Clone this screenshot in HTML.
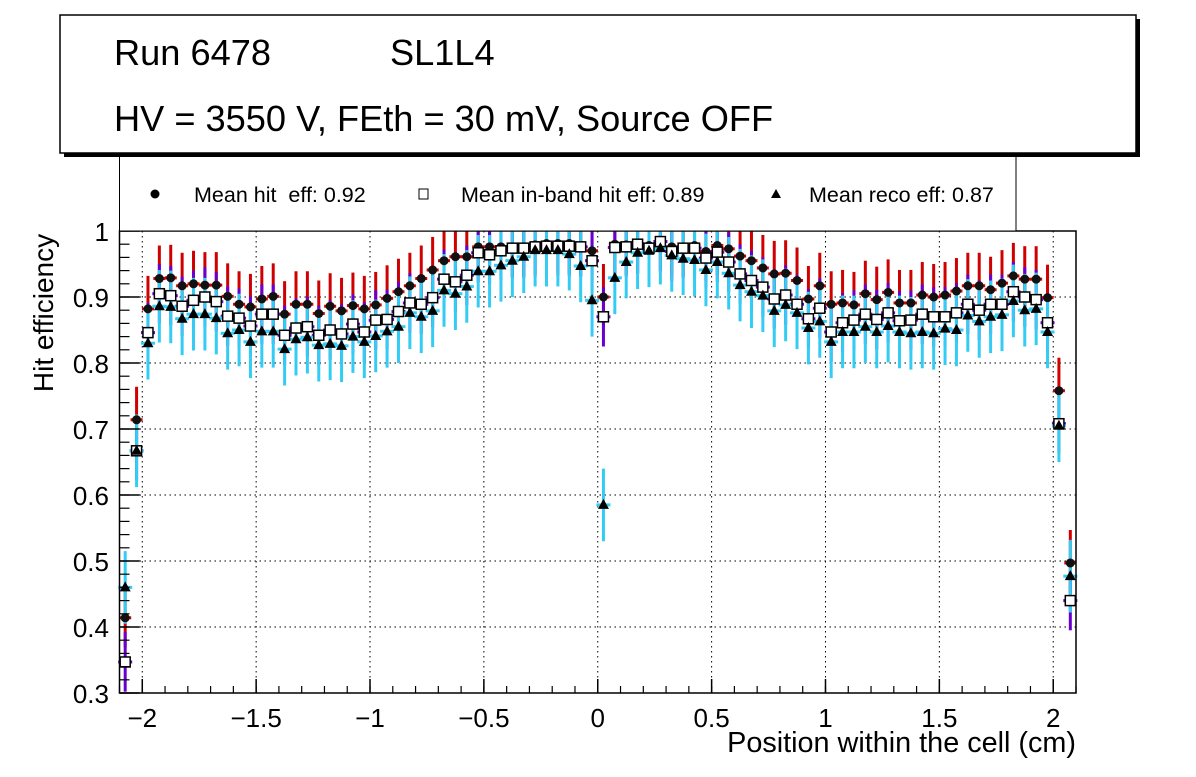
<!DOCTYPE html>
<html><head><meta charset="utf-8"><style>
body{margin:0;background:#fff;}
svg text{font-family:"Liberation Sans",sans-serif;}
</style></head><body>
<svg id="c" width="1196" height="772" xmlns="http://www.w3.org/2000/svg">
<rect x="0" y="0" width="1196" height="772" fill="#fff"/>
<g id="grid"></g>
<g id="marks"></g>
<rect x="119.5" y="231" width="956.5" height="462" fill="none" stroke="#000" stroke-width="1.5"/>
<g id="axes"></g>
<text x="1076" y="752" text-anchor="end" font-size="28.8">Position within the cell (cm)</text>
<text transform="translate(53,313) rotate(-90)" text-anchor="middle" font-size="28">Hit efficiency</text>
<g>
<rect x="119.5" y="150" width="896.5" height="81" fill="#fff" stroke="#000" stroke-width="1"/>
<circle cx="155" cy="194" r="4.5" fill="#000"/>
<text x="194" y="202" font-size="21.5">Mean hit&#160; eff: 0.92</text>
<rect x="419" y="189" width="9" height="10" fill="#fff" stroke="#000"/>
<text x="461" y="202" font-size="21.5">Mean in-band hit eff: 0.89</text>
<polygon points="776,189 771,198 781,198" fill="#000"/>
<text x="809" y="202" font-size="21.5">Mean reco eff: 0.87</text>
</g>
<g>
<rect x="64" y="19" width="1076" height="138" fill="#000"/>
<rect x="60" y="15" width="1076" height="138" fill="#fff" stroke="#000" stroke-width="1.5"/>
<text x="114" y="65" font-size="36.2">Run 6478</text>
<text x="390" y="65" font-size="36.2">SL1L4</text>
<text x="114" y="131" font-size="36.2">HV = 3550 V, FEth = 30 mV, Source OFF</text>
</g>
</svg>
<script>
const xStart = -2.075, xStep = 0.05;
const hitEff = [0.414,0.714,0.882,0.928,0.929,0.917,0.92,0.918,0.918,0.901,0.889,0.885,0.897,0.901,0.874,0.889,0.889,0.875,0.886,0.879,0.887,0.882,0.888,0.898,0.908,0.917,0.928,0.941,0.955,0.961,0.961,0.976,0.976,0.976,0.975,0.976,0.979,0.981,0.981,0.981,0.976,0.97,0.9,0.98,0.979,0.981,0.978,0.984,0.976,0.976,0.978,0.969,0.978,0.973,0.962,0.955,0.944,0.935,0.936,0.925,0.897,0.917,0.889,0.891,0.888,0.905,0.896,0.907,0.891,0.891,0.903,0.9,0.903,0.909,0.917,0.917,0.911,0.921,0.932,0.927,0.927,0.899,0.758,0.497];
const inbandEff = [0.347,0.667,0.846,0.905,0.902,0.886,0.895,0.9,0.893,0.871,0.868,0.856,0.874,0.874,0.842,0.853,0.855,0.842,0.85,0.844,0.859,0.847,0.865,0.866,0.878,0.891,0.889,0.899,0.927,0.923,0.933,0.967,0.964,0.97,0.974,0.974,0.976,0.977,0.977,0.977,0.976,0.955,0.87,0.975,0.976,0.98,0.974,0.984,0.969,0.974,0.974,0.959,0.968,0.953,0.935,0.925,0.915,0.897,0.903,0.889,0.867,0.883,0.847,0.861,0.865,0.874,0.866,0.876,0.864,0.865,0.874,0.87,0.87,0.876,0.889,0.88,0.889,0.889,0.908,0.9,0.896,0.861,0.708,0.44];
const recoEff = [0.46,0.667,0.83,0.886,0.885,0.867,0.874,0.874,0.868,0.845,0.85,0.832,0.848,0.848,0.821,0.836,0.839,0.827,0.829,0.826,0.84,0.832,0.841,0.848,0.855,0.876,0.87,0.879,0.91,0.905,0.916,0.939,0.939,0.948,0.955,0.961,0.971,0.971,0.971,0.965,0.947,0.895,0.585,0.929,0.953,0.967,0.97,0.974,0.963,0.958,0.956,0.941,0.953,0.936,0.918,0.908,0.902,0.879,0.888,0.876,0.853,0.863,0.832,0.847,0.847,0.855,0.847,0.856,0.847,0.845,0.847,0.845,0.852,0.85,0.872,0.863,0.87,0.873,0.894,0.88,0.882,0.847,0.705,0.477];
const hitErr = [0.045,0.05];
const inbandErr = [0.045,0.045];
const recoErr = [0.055,0.055];
const xTicks = [-2,-1.5,-1,-0.5,0,0.5,1,1.5,2];
const xTickLabels = ["\u22122","\u22121.5","\u22121","\u22120.5","0","0.5","1","1.5","2"];
const yTicks = [0.3,0.4,0.5,0.6,0.7,0.8,0.9,1];
const yTickLabels = ["0.3","0.4","0.5","0.6","0.7","0.8","0.9","1"];

const NS="http://www.w3.org/2000/svg";
const X0=119.5,X1=1076,Y0=693,Y1=231,xmin=-2.1,xmax=2.1,ymin=0.3,ymax=1.0;
function sx(v){return X0+(v-xmin)/(xmax-xmin)*(X1-X0);}
function sy(v){return Y0-(v-ymin)/(ymax-ymin)*(Y0-Y1);}
function mk(tag,attrs,parent){const e=document.createElementNS(NS,tag);for(const k in attrs)e.setAttribute(k,attrs[k]);parent.appendChild(e);return e;}
const grid=document.getElementById('grid'),axes=document.getElementById('axes'),marks=document.getElementById('marks');
xTicks.forEach((t,i)=>{
  const x=sx(t);
  const g=mk('line',{x1:x,x2:x,y1:Y1,y2:Y0,stroke:'#000','stroke-dasharray':'1.5,3.5','stroke-width':1},grid);
  
  
  const tk=mk('line',{x1:x,x2:x,y1:Y0,y2:Y0-14,stroke:'#000','stroke-width':1.5},axes);
  
  
  const tx=mk('text',{x:x,y:727,'text-anchor':'middle','font-size':26},axes);
  tx.textContent=xTickLabels[i];
  
  
});
for(let v=-2.1;v<=2.1001;v+=0.1){const x=sx(v);mk('line',{x1:x,x2:x,y1:Y0,y2:Y0-7,stroke:'#000','stroke-width':1.2},axes);}
yTicks.forEach((t,i)=>{
  const y=sy(t);
  if(t>ymin&&t<ymax){const g=mk('line',{x1:X0,x2:X1,y1:y,y2:y,stroke:'#000','stroke-dasharray':'1.5,3.5','stroke-width':1},grid);
  
  }
  const tk=mk('line',{x1:X0,x2:X0+20,y1:y,y2:y,stroke:'#000','stroke-width':1.5},axes);
  
  
  const tx=mk('text',{x:109,y:y+10,'text-anchor':'end','font-size':26},axes);
  tx.textContent=yTickLabels[i];
  
  
});
for(let v=0.3;v<=1.0001;v+=0.02){const y=sy(v);mk('line',{x1:X0,x2:X0+10,y1:y,y2:y,stroke:'#000','stroke-width':1.2},axes);}
function clampY(v){return sy(Math.max(ymin,Math.min(ymax,v)));}
hitEff.forEach((v,i)=>{const x=sx(xStart+i*xStep);
  const l=mk('line',{x1:x,x2:x,y1:clampY(v+hitErr[1]),y2:clampY(v-hitErr[0]),stroke:'#d00000','stroke-width':3},marks);
  
  
  mk('line',{x1:x-6,x2:x+6,y1:sy(v),y2:sy(v),stroke:'#d00000','stroke-width':3},marks);
});
inbandEff.forEach((v,i)=>{const x=sx(xStart+i*xStep);
  const l=mk('line',{x1:x,x2:x,y1:clampY(v+inbandErr[1]),y2:clampY(v-inbandErr[0]),stroke:'#6a00d0','stroke-width':3},marks);
  
  
  mk('line',{x1:x-7,x2:x+7,y1:sy(v),y2:sy(v),stroke:'#6a00d0','stroke-width':3},marks);
});
recoEff.forEach((v,i)=>{const x=sx(xStart+i*xStep);
  const l=mk('line',{x1:x,x2:x,y1:clampY(v+recoErr[1]),y2:clampY(v-recoErr[0]),stroke:'#33ccf5','stroke-width':3},marks);
  
  
  mk('line',{x1:x-7,x2:x+7,y1:sy(v),y2:sy(v),stroke:'#33ccf5','stroke-width':3},marks);
});
hitEff.forEach((v,i)=>{const x=sx(xStart+i*xStep);
  const c=mk('circle',{cx:x,cy:sy(v),r:4.5,fill:'#111'},marks);
  
  
});
inbandEff.forEach((v,i)=>{const x=sx(xStart+i*xStep);
  const r=mk('rect',{x:x-5,y:sy(v)-5,width:10,height:10,fill:'#fff',stroke:'#000','stroke-width':1.5},marks);
  
  
});
recoEff.forEach((v,i)=>{const x=sx(xStart+i*xStep),y=sy(v);
  const p=mk('polygon',{points:`${x},${y-6} ${x-5.5},${y+4} ${x+5.5},${y+4}`,fill:'#000'},marks);
  
  
});
</script>
</body></html>
